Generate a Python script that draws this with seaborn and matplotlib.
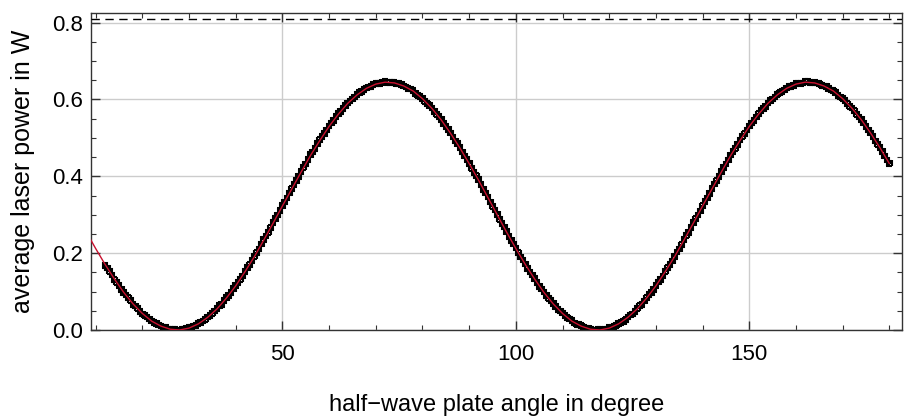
import numpy as np
import matplotlib
matplotlib.use("Agg")
import matplotlib.pyplot as plt
import seaborn as sns
from matplotlib.ticker import MultipleLocator, FormatStrFormatter

# measured power vs half-wave plate angle, whole degrees 12..180
angle_int = list(range(12, 181))
power_int = [
    0.168, 0.153, 0.131, 0.116, 0.097, 0.084, 0.067, 0.056, 0.042, 0.034,
    0.023, 0.017, 0.010, 0.006, 0.002, 0.001, 0.000, 0.002, 0.006, 0.010,
    0.017, 0.023, 0.034, 0.043, 0.056, 0.067, 0.084, 0.097, 0.116, 0.132,
    0.153, 0.170, 0.192, 0.211, 0.236, 0.254, 0.280, 0.299, 0.324, 0.344,
    0.368, 0.389, 0.412, 0.432, 0.456, 0.473, 0.495, 0.511, 0.531, 0.546,
    0.563, 0.576, 0.591, 0.601, 0.613, 0.621, 0.630, 0.634, 0.641, 0.642,
    0.646, 0.644, 0.644, 0.641, 0.635, 0.628, 0.623, 0.611, 0.603, 0.589,
    0.578, 0.561, 0.548, 0.529, 0.513, 0.492, 0.475, 0.453, 0.434, 0.410,
    0.391, 0.366, 0.346, 0.322, 0.301, 0.277, 0.256, 0.233, 0.213, 0.190,
    0.172, 0.151, 0.134, 0.114, 0.099, 0.082, 0.069, 0.054, 0.044, 0.032,
    0.024, 0.015, 0.011, 0.004, 0.003, 0.000, 0.001, 0.001, 0.006, 0.009,
    0.017, 0.022, 0.034, 0.042, 0.056, 0.067, 0.084, 0.097, 0.116, 0.132,
    0.153, 0.170, 0.192, 0.211, 0.235, 0.254, 0.279, 0.299, 0.324, 0.344,
    0.368, 0.389, 0.412, 0.432, 0.455, 0.473, 0.494, 0.511, 0.531, 0.546,
    0.563, 0.576, 0.591, 0.601, 0.613, 0.621, 0.630, 0.634, 0.641, 0.642,
    0.646, 0.644, 0.644, 0.641, 0.635, 0.628, 0.623, 0.611, 0.603, 0.589,
    0.578, 0.561, 0.548, 0.529, 0.513, 0.492, 0.475, 0.453, 0.434,
]

# measured power at the half degrees 12.5..179.5
angle_half = [a + 0.5 for a in range(12, 180)]
power_half = [
    0.161, 0.143, 0.124, 0.106, 0.091, 0.077, 0.062, 0.048, 0.038, 0.029,
    0.019, 0.013, 0.008, 0.003, 0.001, 0.000, 0.001, 0.004, 0.007, 0.012,
    0.020, 0.028, 0.037, 0.049, 0.063, 0.076, 0.090, 0.108, 0.124, 0.141,
    0.162, 0.181, 0.201, 0.224, 0.245, 0.266, 0.290, 0.311, 0.333, 0.357,
    0.379, 0.400, 0.423, 0.443, 0.463, 0.485, 0.503, 0.520, 0.539, 0.555,
    0.569, 0.584, 0.596, 0.606, 0.618, 0.626, 0.632, 0.639, 0.642, 0.645,
    0.644, 0.645, 0.641, 0.639, 0.632, 0.627, 0.616, 0.608, 0.595, 0.584,
    0.569, 0.556, 0.537, 0.522, 0.502, 0.485, 0.463, 0.444, 0.421, 0.402,
    0.378, 0.357, 0.333, 0.312, 0.288, 0.268, 0.244, 0.224, 0.201, 0.182,
    0.160, 0.143, 0.123, 0.107, 0.090, 0.077, 0.061, 0.049, 0.037, 0.029,
    0.018, 0.014, 0.007, 0.004, 0.000, 0.001, 0.000, 0.003, 0.008, 0.012,
    0.020, 0.027, 0.039, 0.048, 0.063, 0.075, 0.092, 0.106, 0.125, 0.141,
    0.162, 0.180, 0.203, 0.222, 0.246, 0.266, 0.290, 0.310, 0.335, 0.356,
    0.380, 0.400, 0.423, 0.442, 0.465, 0.483, 0.504, 0.520, 0.539, 0.554,
    0.571, 0.582, 0.597, 0.606, 0.618, 0.625, 0.634, 0.637, 0.643, 0.643,
    0.646, 0.643, 0.643, 0.637, 0.634, 0.625, 0.618, 0.606, 0.597, 0.582,
    0.571, 0.554, 0.539, 0.520, 0.504, 0.483, 0.465, 0.442,
]
angle_err = 0.5
power_err = 0.006

# fitted curve (2 degree steps, 8..180)
fit_angle = list(range(8, 181, 2))
fit_power = [
    0.255, 0.212,
    0.171, 0.133, 0.098, 0.068, 0.043, 0.023, 0.010, 0.002, 0.000, 0.005,
    0.016, 0.033, 0.055, 0.083, 0.115, 0.152, 0.191, 0.234, 0.278, 0.323,
    0.367, 0.411, 0.454, 0.493, 0.530, 0.562, 0.590, 0.612, 0.629, 0.640,
    0.645, 0.643, 0.635, 0.622, 0.602, 0.577, 0.547, 0.512, 0.474, 0.433,
    0.390, 0.345, 0.300, 0.255, 0.212,
    0.171, 0.133, 0.098, 0.068, 0.043, 0.023, 0.010, 0.002, 0.000, 0.005,
    0.016, 0.033, 0.055, 0.083, 0.115, 0.152, 0.191, 0.234, 0.278, 0.323,
    0.367, 0.411, 0.454, 0.493, 0.530, 0.562, 0.590, 0.612, 0.629, 0.640,
    0.645, 0.643, 0.635, 0.622, 0.602, 0.577, 0.547, 0.512, 0.474, 0.433,
]

max_power = 0.809  # dashed reference line

angle = angle_int + angle_half
power = power_int + power_half

sns.set_theme(style="whitegrid")
plt.rcParams['font.family'] = ['Liberation Sans', 'DejaVu Sans']
plt.rcParams['text.color'] = 'black'
plt.rcParams['axes.labelcolor'] = 'black'

fig = plt.figure(figsize=(9.07, 4.17), dpi=100)
ax = fig.add_axes([91 / 907, 1 - 330 / 417, (902 - 91) / 907, (330 - 13) / 417])

ax.errorbar(angle, power, xerr=angle_err, yerr=power_err, fmt='none',
            ecolor='black', elinewidth=1.5, capsize=2.5, capthick=1.5, zorder=2)
sns.lineplot(x=fit_angle, y=fit_power, ax=ax, color='#c8102e', lw=1.0, zorder=3)
ax.axhline(max_power, color='black', ls=(0, (6, 4)), lw=1.0, zorder=3)

ax.set_xlim(9, 182.7)
ax.set_ylim(0, 0.825)

ax.xaxis.set_major_locator(MultipleLocator(50))
ax.xaxis.set_minor_locator(MultipleLocator(10))
ax.yaxis.set_major_locator(MultipleLocator(0.2))
ax.yaxis.set_minor_locator(MultipleLocator(0.05))
ax.yaxis.set_major_formatter(FormatStrFormatter('%.1f'))

ax.grid(True, which='major', color='#cccccc', lw=1.0)
ax.grid(False, which='minor')
for s in ax.spines.values():
    s.set_color('#333333')
    s.set_linewidth(1.0)

ax.tick_params(which='both', direction='in', top=True, right=True, bottom=True, left=True,
               colors='#333333', labelcolor='black', labelsize=16)
ax.tick_params(which='major', length=6.5, width=1.0)
ax.tick_params(axis='x', which='major', pad=10)
ax.tick_params(axis='y', which='major', pad=6)
ax.tick_params(which='minor', length=3.5, width=0.8)

ax.set_xlabel('half\u2212wave plate angle in degree', fontsize=17, labelpad=21)
ax.set_ylabel('average laser power in W', fontsize=18, labelpad=12)

fig.savefig('out.png', dpi=100)
